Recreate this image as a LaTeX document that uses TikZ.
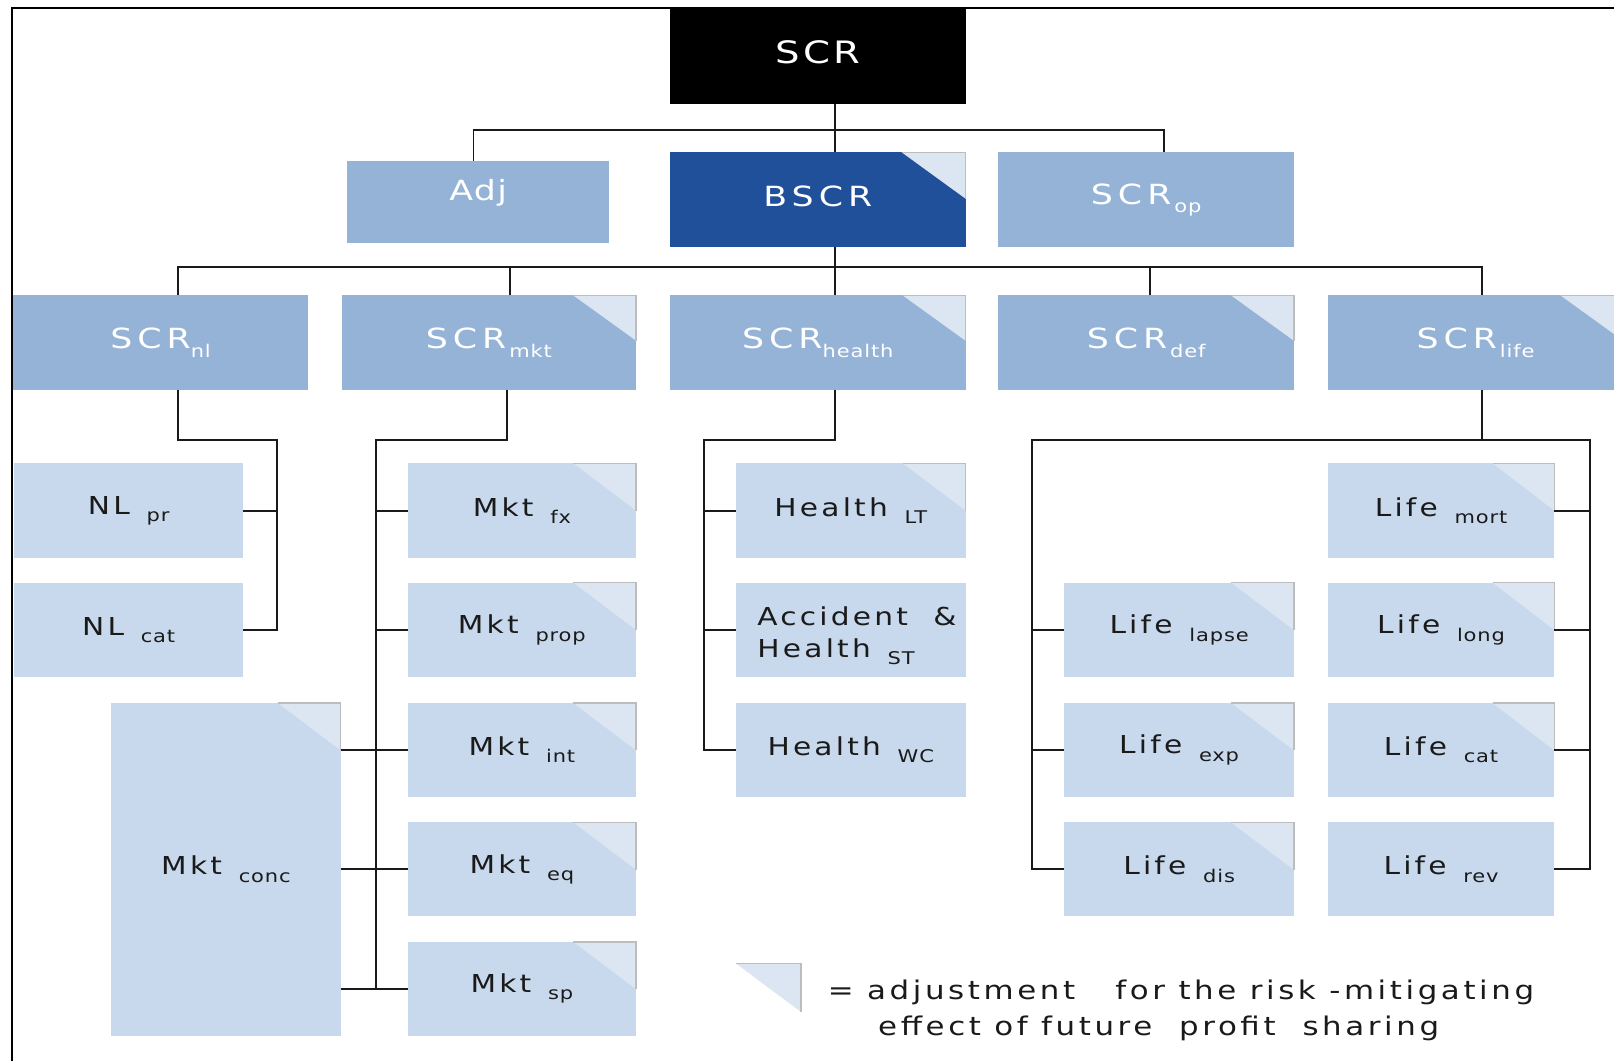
\documentclass[tikz,border=0pt]{standalone}
\usepackage{fontspec}
\setmainfont[FakeStretch=1.2,LetterSpace=13]{DejaVu Sans}
\newfontfamily\lsW[FakeStretch=1.25,LetterSpace=18]{DejaVu Sans}
\newfontfamily\lsB[FakeStretch=1.2,LetterSpace=13]{DejaVu Sans}
\newfontfamily\lsS[FakeStretch=1.2,LetterSpace=5]{DejaVu Sans}
\newfontfamily\lsA[FakeStretch=1.25,LetterSpace=5]{DejaVu Sans}
\newfontfamily\lsT[FakeStretch=1.25,LetterSpace=10]{DejaVu Sans}
\newfontfamily\lsL[FakeStretch=1.2,LetterSpace=14]{DejaVu Sans}
\usetikzlibrary{calc}
\definecolor{midc}{HTML}{95B3D7}
\definecolor{litec}{HTML}{C9D9ED}
\definecolor{darkc}{HTML}{21509B}
\definecolor{flapc}{HTML}{DCE6F2}
\definecolor{flapedge}{HTML}{BDBDBD}
\definecolor{inkc}{HTML}{1A1A1A}
\newcommand{\wlab}[2]{{\lsW\fontsize{27}{30}\selectfont #1\raisebox{-8pt}{\lsS\fontsize{17}{17}\selectfont #2}}}
\newcommand{\blab}[2]{{\lsB\fontsize{24}{28}\selectfont #1\ \,\raisebox{-7pt}{\lsS\fontsize{17}{17}\selectfont #2}}}
\newcommand{\flapat}[3]{%
  \fill[flapc] ([xshift=-#2pt]#1.north east) -- (#1.north east) -- ([yshift=-#3pt]#1.north east) -- cycle;
  \draw[flapedge, line width=1.3pt] ([xshift=-#2pt]#1.north east) -- (#1.north east) -- ([yshift=-#3pt]#1.north east);}
\begin{document}
\begin{tikzpicture}[x=1pt,y=-1pt,
  box/.style={rectangle, inner sep=0pt, outer sep=0pt, align=center},
  midbox/.style={box, fill=midc, text=white},
  litebox/.style={box, fill=litec, text=inkc},
  conn/.style={line width=1.9pt, draw=inkc}]
\useasboundingbox (0,0) rectangle (1568,1031);
\clip (0,0) rectangle (1568,1031);
\fill[white] (0,0) rectangle (1568,1031);
\draw[line width=2pt] (1568,8) -- (12,8) -- (12,1031);

% level 1 and 2
\node[box, fill=black, text=white, minimum width=287pt, minimum height=93pt] (SCR) at (794.5,54.5) {\raisebox{4pt}[\height][\depth]{\lsT\fontsize{30}{32}\selectfont SCR}};
\node[midbox, minimum width=255pt, minimum height=80pt] (Adj) at (464.5,196) {\raisebox{9pt}[\height][\depth]{\lsA\fontsize{27}{30}\selectfont Adj}};
\node[box, fill=darkc, text=white, minimum width=287pt, minimum height=92pt] (BSCR) at (794.5,194) {\raisebox{3pt}[\height][\depth]{\lsW\fontsize{27}{30}\selectfont BSCR}};
\node[midbox, minimum width=287pt, minimum height=92pt] (SCRop) at (1113.5,194) {\wlab{SCR}{\,op}};

% level 3
\node[midbox, minimum width=286pt, minimum height=92pt] (SCRnl) at (156,333) {\wlab{SCR}{nl}};
\node[midbox, minimum width=286pt, minimum height=92pt] (SCRmkt) at (475,333) {\wlab{SCR}{\,mkt}};
\node[midbox, minimum width=287pt, minimum height=92pt] (SCRhealth) at (794.5,333) {\wlab{SCR}{health}};
\node[midbox, minimum width=287pt, minimum height=92pt] (SCRdef) at (1113.5,333) {\wlab{SCR}{\,def}};
\node[midbox, minimum width=287pt, minimum height=92pt] (SCRlife) at (1433.5,333) {\wlab{SCR}{\,life}};

% level 4: non-life
\node[litebox, minimum width=222pt, minimum height=92pt] (NLpr) at (125,496) {\blab{NL}{pr}};
\node[litebox, minimum width=222pt, minimum height=92pt] (NLcat) at (125,612) {\blab{NL}{cat}};

% market
\node[litebox, minimum width=222pt, minimum height=92pt] (Mktfx) at (507,496) {\blab{Mkt}{fx}};
\node[litebox, minimum width=222pt, minimum height=92pt] (Mktprop) at (507,612) {\blab{Mkt}{prop}};
\node[litebox, minimum width=222pt, minimum height=91pt] (Mktint) at (507,728.5) {\blab{Mkt}{int}};
\node[litebox, minimum width=222pt, minimum height=91pt] (Mkteq) at (507,844.5) {\blab{Mkt}{eq}};
\node[litebox, minimum width=222pt, minimum height=91pt] (Mktsp) at (507,960.5) {\blab{Mkt}{sp}};
\node[litebox, minimum width=223pt, minimum height=323pt] (Mktconc) at (219.5,844.5) {\blab{Mkt}{conc}};

% health
\node[litebox, minimum width=223pt, minimum height=92pt] (HLT) at (826.5,496) {\blab{Health}{LT}};
\node[litebox, minimum width=223pt, minimum height=92pt, align=left, font={\lsB\fontsize{24}{31}\selectfont}] (HAS) at (826.5,612) {\hspace*{12pt}\rule{0pt}{30pt}Accident\ \ \&\\\hspace*{12pt}\blab{Health}{ST}};
\node[litebox, minimum width=223pt, minimum height=91pt] (HWC) at (826.5,728.5) {\blab{Health}{WC}};

% life
\node[litebox, minimum width=220pt, minimum height=92pt] (Lifemort) at (1400,496) {\blab{Life}{mort}};
\node[litebox, minimum width=220pt, minimum height=92pt] (Lifelong) at (1400,612) {\blab{Life}{long}};
\node[litebox, minimum width=220pt, minimum height=91pt] (Lifecat) at (1400,728.5) {\blab{Life}{cat}};
\node[litebox, minimum width=220pt, minimum height=91pt] (Liferev) at (1400,844.5) {\blab{Life}{rev}};
\node[litebox, minimum width=223pt, minimum height=92pt] (Lifelapse) at (1145.5,612) {\blab{Life}{lapse}};
\node[litebox, minimum width=223pt, minimum height=91pt] (Lifeexp) at (1145.5,728.5) {\blab{Life}{exp}};
\node[litebox, minimum width=223pt, minimum height=91pt] (Lifedis) at (1145.5,844.5) {\blab{Life}{dis}};

% flaps
\flapat{BSCR}{62}{45}
\flapat{SCRmkt}{61}{44}
\flapat{SCRhealth}{61}{44}
\flapat{SCRdef}{61}{44}
\flapat{SCRlife}{61}{44}
\foreach \n in {Mktfx,Mktprop,Mktint,Mkteq,Mktsp,Mktconc,HLT,Lifelapse,Lifeexp,Lifedis}{\flapat{\n}{61}{46}}
\foreach \n in {Lifemort,Lifelong,Lifecat}{\flapat{\n}{60}{46}}

% connectors level 1-2
\draw[conn] ([xshift=16.5pt]SCR.south) -- ([xshift=16.5pt]BSCR.north);
\draw[conn] ([xshift=-4.5pt]Adj.north) -- ++(0,-30) -| ([xshift=17.5pt]SCRop.north);
% level 2-3
\draw[conn] ([xshift=16.5pt]BSCR.south) -- ([xshift=16.5pt]SCRhealth.north);
\draw[conn] ([xshift=17pt]SCRnl.north) -- ++(0,-28) -| ([xshift=6.5pt]SCRlife.north);
\draw[conn] ([xshift=20pt]SCRmkt.north) -- ++(0,-28);
\draw[conn] ([xshift=3.5pt]SCRdef.north) -- ++(0,-28);

% non-life
\draw[conn] ([xshift=17pt]SCRnl.south) -- ++(0,48) -| ($(NLcat.east)+(33,0)$) -- (NLcat.east);
\draw[conn] (NLpr.east) -- ++(33,0);
% market
\draw[conn] ([xshift=18pt]SCRmkt.south) -- ++(0,48) -| ($(Mktsp.west)+(-31,0)$) -- (Mktsp.west);
\foreach \n in {Mktfx,Mktprop,Mktint,Mkteq}{\draw[conn] (\n.west) -- ++(-31,0);}
\foreach \n in {Mktint,Mkteq,Mktsp}{\draw[conn] (Mktconc.east |- \n.west) -- (\n.west);}
% health
\draw[conn] ([xshift=16.5pt]SCRhealth.south) -- ++(0,48) -| ($(HWC.west)+(-31,0)$) -- (HWC.west);
\foreach \n in {HLT,HAS}{\draw[conn] (\n.west) -- ++(-31,0);}
% life
\draw[conn] ([xshift=6.5pt]SCRlife.south) -- ++(0,48) coordinate (lj);
\coordinate (lifeL) at ($(Lifedis.west)+(-31,0)$);
\coordinate (lifeR) at ($(Liferev.east)+(35,0)$);
\draw[conn] (Lifedis.west) -- (lifeL) -- (lifeL |- lj) -- (lifeR |- lj) -- (lifeR) -- (Liferev.east);
\foreach \n in {Lifelapse,Lifeexp}{\draw[conn] (\n.west) -- (lifeL |- \n.west);}
\foreach \n in {Lifemort,Lifelong,Lifecat}{\draw[conn] (\n.east) -- (lifeR |- \n.east);}

% legend
\fill[flapc] (715,936) -- (778,936) -- (778,983) -- cycle;
\draw[flapedge, line width=1.3pt] (715,936) -- (778,936) -- (778,983);
\node[align=left, anchor=west, text=inkc, inner sep=0pt, font={\lsL\fontsize{25}{35}\selectfont}] (legtext) at (804,982) {= adjustment\ \ \ for the risk -mitigating\\\hspace*{49pt}effect of future\ \ profit\ \ sharing};
\end{tikzpicture}
\end{document}
